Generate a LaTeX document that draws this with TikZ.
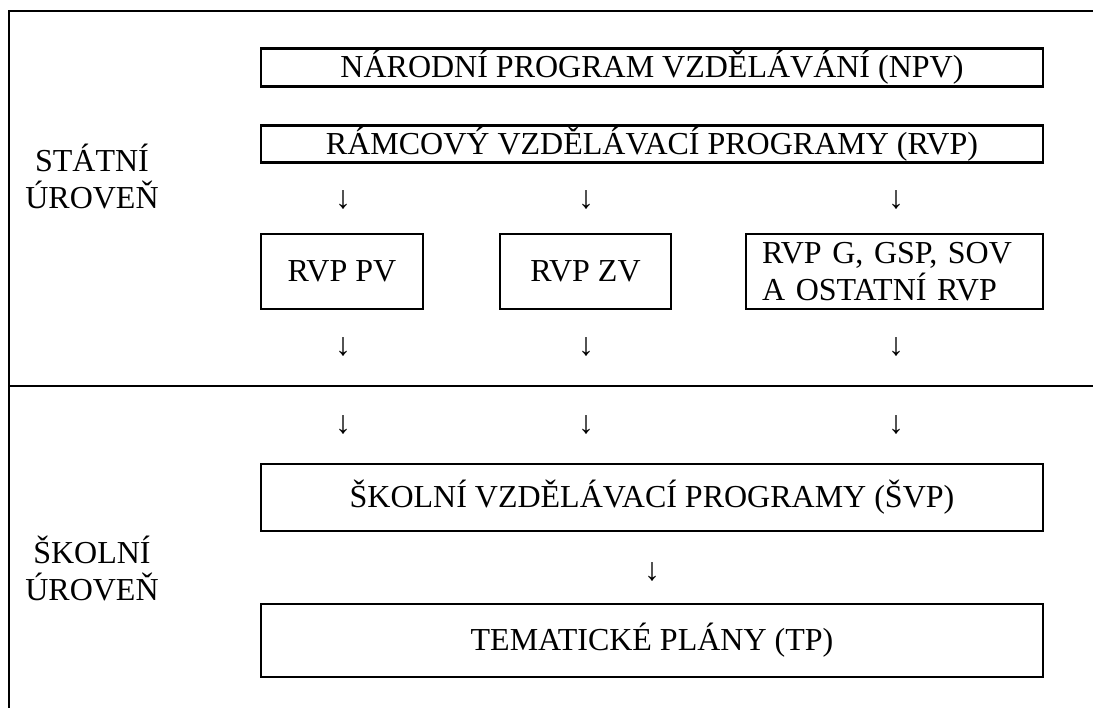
\documentclass[tikz,border=0pt]{standalone}
\usepackage{fontspec}
\setmainfont{Liberation Serif}
\usetikzlibrary{positioning}

\begin{document}
\begin{tikzpicture}[x=1pt, y=-1pt, line width=2.6pt,
    font=\fontsize{32}{37}\selectfont,
    box/.style={draw, inner sep=0pt, align=center},
    wide/.style={box, minimum width=782pt},
    dn/.style={inner sep=0pt}]
  \useasboundingbox (0,0) rectangle (1093,708);

  \coordinate (TopR) at (1093,11);
  \coordinate (Corner) at (9,11);
  \coordinate (Foot) at (9,708);
  \coordinate (MidL) at (9,386);
  \coordinate (MidR) at (1093,386);
  \draw (TopR) -- (Corner) -- (Foot);
  \draw (MidL) -- (MidR);

  \node (Stat) [align=center] at (92,177) {STÁTNÍ\\ÚROVEŇ};
  \node (Skol) [align=center] at (92,568) {ŠKOLNÍ\\ÚROVEŇ};

  \node (Npv) [wide, minimum height=38pt] at (652,67.5) {NÁRODNÍ PROGRAM VZDĚLÁVÁNÍ (NPV)};
  \node (Rvp) [wide, minimum height=37pt] at (652,144) {RÁMCOVÝ VZDĚLÁVACÍ PROGRAMY (RVP)};

  \node (RvpPv) [box, minimum width=162pt, minimum height=75pt] at (342,271.5) {RVP PV};
  \node (RvpZv) [box, minimum width=171pt, minimum height=75pt] at (585.5,271.5) {RVP ZV};
  \node (RvpOst) [draw, align=left, inner ysep=0pt, inner xsep=16pt, text width=265pt,
    minimum height=75pt] at (894.5,271.5) {RVP G, GSP, SOV\\A OSTATNÍ RVP};

  \node (Svp) [wide, minimum height=67pt] at (652,497.5) {ŠKOLNÍ VZDĚLÁVACÍ PROGRAMY (ŠVP)};
  \node (Tp) [wide, minimum height=73pt] at (652,640.5) {TEMATICKÉ PLÁNY (TP)};

  \foreach \x/\n in {343/Pv, 586/Zv, 896/Ost} {
    \node (In\n) [dn] at (\x,200) {↓};
    \node (Out\n) [dn] at (\x,347) {↓};
    \node (Down\n) [dn] at (\x,425) {↓};
  }
  \node (ToTp) [dn] at (652,572) {↓};
\end{tikzpicture}
\end{document}
